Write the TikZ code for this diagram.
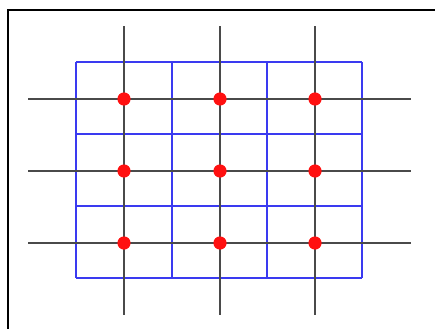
\documentclass[tikz,border=0pt]{standalone}
\definecolor{gridblue}{HTML}{3A3AF0}
\definecolor{gridgray}{HTML}{4A4A4A}
\definecolor{dotred}{HTML}{FF1010}
\usepackage{tikz}
\usetikzlibrary{positioning, calc}

\begin{document}
\begin{tikzpicture}[x=0.025cm, y=-0.025cm,
  cellline/.style={draw=gridblue, line width=1.3pt},
  probeline/.style={draw=gridgray, line width=1.3pt},
  sample/.style={circle, fill=dotred, inner sep=0pt, minimum size=0.33cm},
]
  \useasboundingbox (0,0) rectangle (435,329);
  % frame
  \draw[line width=1.6pt] (8,329) -- (8,10) -- (435,10);

  % blue cells
  \foreach \x in {76,172,267,362}
    \draw[cellline] (\x,62) -- (\x,278);
  \foreach \y in {62,134,206,278}
    \draw[cellline] (76,\y) -- (362,\y);

  % black lines through the cell centres
  \foreach \x/\n in {124/a,220/b,315/c} {
    \coordinate (top\n) at (\x,26);
    \coordinate (bot\n) at (\x,315);
    \draw[probeline] (top\n) -- (bot\n);
  }
  \foreach \y/\n in {99/a,171/b,243/c} {
    \coordinate (left\n) at (28,\y);
    \coordinate (right\n) at (411,\y);
    \draw[probeline] (left\n) -- (right\n);
  }

  % red samples
  \foreach \c in {a,b,c}
    \foreach \r in {a,b,c}
      \node[sample] (s\c\r) at (top\c |- left\r) {};
\end{tikzpicture}
\end{document}
